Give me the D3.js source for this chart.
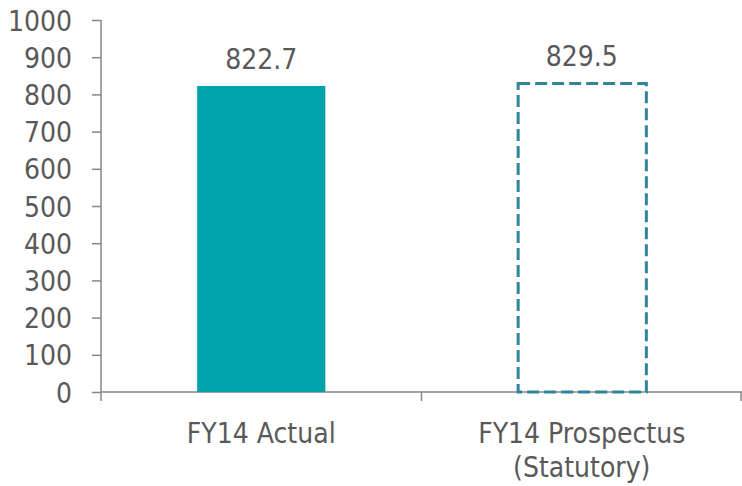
<!DOCTYPE html>
<html>
<head>
<meta charset="utf-8">
<script src="https://cdn.jsdelivr.net/npm/d3@7"></script>
<style>
  body { margin: 0; background: #fff; }
  text { font-family: "DejaVu Sans Condensed", "DejaVu Sans", sans-serif; font-stretch: condensed; fill: #595959; }
</style>
</head>
<body>
<script>
const categories = ["FY14 Actual", "FY14 Prospectus\n(Statutory)"];
const values = [822.7, 829.5];
const labels = ["822.7", "829.5"];
const yTicks = [0, 100, 200, 300, 400, 500, 600, 700, 800, 900, 1000];

const width = 742;
const height = 486;
const plotLeft = 101, plotRight = 742, plotTop = 20, plotBottom = 392;
const fontSize = 28;

const svg = d3.select("body").append("svg")
  .attr("width", width)
  .attr("height", height);

const x = d3.scaleBand()
  .domain(categories)
  .range([plotLeft, plotRight])
  .paddingInner(0.6)
  .paddingOuter(0.3);

const y = d3.scaleLinear()
  .domain([0, 1000])
  .range([plotBottom, plotTop]);

// y axis
const yAxis = svg.append("g")
  .attr("transform", `translate(${plotLeft},0)`)
  .call(d3.axisLeft(y).tickValues(yTicks).tickFormat(d3.format("d")).tickSize(9).tickPadding(20));
yAxis.selectAll("line, path").attr("stroke", "#868686").attr("stroke-width", 1.5);
yAxis.select(".domain").attr("d", `M0,${plotTop}V${plotBottom}`);
yAxis.attr("font-family", null).attr("font-size", null);
yAxis.selectAll("text").attr("font-size", fontSize).attr("dy", "0.36em");

// x axis
const xAxis = svg.append("g").attr("transform", `translate(0,${plotBottom})`);
xAxis.append("line").attr("x1", plotLeft).attr("x2", plotRight)
  .attr("stroke", "#868686").attr("stroke-width", 1.5);
const bounds = [plotLeft, (plotLeft + plotRight) / 2, plotRight - 1];
xAxis.selectAll(".tk").data(bounds).enter().append("line")
  .attr("x1", d => d).attr("x2", d => d).attr("y1", 0).attr("y2", 9)
  .attr("stroke", "#868686").attr("stroke-width", 1.5);

const catLabels = xAxis.selectAll(".cat").data(categories).enter().append("text")
  .attr("text-anchor", "middle")
  .attr("font-size", fontSize)
  .attr("x", d => x(d) + x.bandwidth() / 2)
  .attr("y", 51);
catLabels.selectAll("tspan").data(d => d.split("\n")).enter().append("tspan")
  .attr("x", function() { return this.parentNode.getAttribute("x"); })
  .attr("dy", (d, i) => i === 0 ? 0 : 34)
  .text(d => d);

// bars
svg.append("rect")
  .attr("x", x(categories[0]))
  .attr("y", y(values[0]))
  .attr("width", x.bandwidth())
  .attr("height", plotBottom - y(values[0]))
  .attr("fill", "#00A2AC");

svg.append("rect")
  .attr("x", x(categories[1]) + 0.5)
  .attr("y", y(values[1]))
  .attr("width", x.bandwidth())
  .attr("height", plotBottom - y(values[1]))
  .attr("fill", "none")
  .attr("stroke", "#31849B")
  .attr("stroke-width", 3)
  .attr("stroke-dasharray", "12,5");

// value labels
svg.selectAll(".val").data(values).enter().append("text")
  .attr("text-anchor", "middle")
  .attr("font-size", fontSize)
  .attr("x", (d, i) => x(categories[i]) + x.bandwidth() / 2)
  .attr("y", d => y(d) - 17)
  .text((d, i) => labels[i]);
</script>
</body>
</html>
